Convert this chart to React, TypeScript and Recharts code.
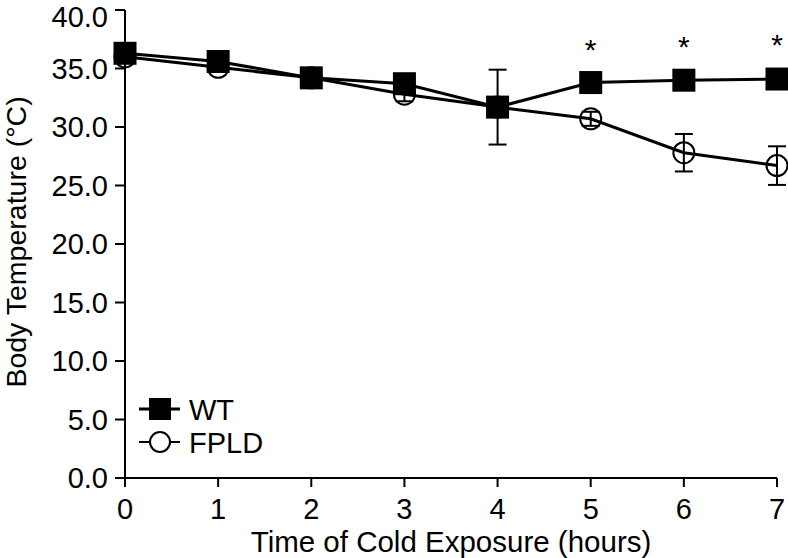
import React from 'react'
import { LineChart, Line, XAxis, YAxis, ErrorBar, Legend, ReferenceDot } from 'recharts'

const FONT = '"Liberation Sans", Arial, Helvetica, sans-serif'

// time of cold exposure (hours)
const hours = [0, 1, 2, 3, 4, 5, 6, 7]
const wtTemp = [36.3, 35.6, 34.2, 33.7, 31.7, 33.8, 34.0, 34.1]
const wtErr = [0.3, 0.3, 0.3, 0.4, 3.2, 0.4, 0.3, 0.3]
const fpldTemp = [36.0, 35.1, 34.2, 32.8, 31.7, 30.7, 27.8, 26.7]
const fpldErr = [0.5, 0.4, 0.3, 0.6, 0.5, 0.6, 1.6, 1.65]
const sigHours = [5, 6, 7]
const sigY = [36.6, 36.9, 37.1]
const yTicks = [0, 5, 10, 15, 20, 25, 30, 35, 40]

const data = hours.map((h, i) => ({
  hour: h,
  wt: wtTemp[i],
  wtErr: wtErr[i],
  fpld: fpldTemp[i],
  fpldErr: fpldErr[i],
}))

const tickStyle = { fill: '#000', fontSize: 29, fontFamily: FONT }

function SquareDot(props: any) {
  const { cx, cy } = props
  if (cx == null || cy == null) return null
  return <rect x={cx - 11.5} y={cy - 11.5} width={23} height={23} fill="#000" />
}

function CircleDot(props: any) {
  const { cx, cy } = props
  if (cx == null || cy == null) return null
  return <circle cx={cx} cy={cy} r={10.5} fill="none" stroke="#000" strokeWidth={2} />
}

function LegendBox() {
  return (
    <svg width={170} height={70} style={{ display: 'block' }}>
      <line x1={9} y1={19} x2={50} y2={19} stroke="#000" strokeWidth={3} />
      <rect x={19} y={8} width={22} height={22} fill="#000" />
      <text x={59} y={30} fontSize={29} fontFamily={FONT} fill="#000">WT</text>
      <line x1={9} y1={52} x2={50} y2={52} stroke="#000" strokeWidth={2} />
      <circle cx={30} cy={52} r={10} fill="#fff" stroke="#000" strokeWidth={2} />
      <text x={59} y={63} fontSize={29} fontFamily={FONT} fill="#000">FPLD</text>
    </svg>
  )
}

export default function App() {
  return (
    <div style={{ position: 'absolute', left: 0, top: 0, background: '#fff' }}>
      <LineChart width={788} height={558} data={data} margin={{ top: 10, right: 11, left: 0, bottom: 0 }}>
        <XAxis
          type="number"
          dataKey="hour"
          domain={[0, 7]}
          ticks={hours}
          height={80}
          tickSize={9}
          tickMargin={11}
          tick={tickStyle}
          axisLine={{ stroke: '#000', strokeWidth: 2 }}
          tickLine={{ stroke: '#000', strokeWidth: 2 }}
          label={{ value: 'Time of Cold Exposure (hours)', position: 'insideBottom', offset: 6, fill: '#000', fontSize: 29.5, fontFamily: FONT }}
        />
        <YAxis
          type="number"
          domain={[0, 40]}
          ticks={yTicks}
          width={125}
          tickSize={10}
          tickMargin={7}
          tick={tickStyle}
          tickFormatter={(v: number) => v.toFixed(1)}
          axisLine={{ stroke: '#000', strokeWidth: 2 }}
          tickLine={{ stroke: '#000', strokeWidth: 2 }}
          label={{
            content: () => (
              <text x={26} y={242} transform="rotate(-90 26 242)" textAnchor="middle" fontSize={28.5} fontFamily={FONT} fill="#000">
                Body Temperature (°C)
              </text>
            ),
          }}
        />
        <Legend
          layout="horizontal"
          verticalAlign="middle"
          align="center"
          content={() => <LegendBox />}
          wrapperStyle={{ position: 'absolute', left: 130, top: 390, width: 170 }}
        />
        <Line
          dataKey="fpld"
          stroke="#000"
          strokeWidth={3}
          dot={<CircleDot />}
          activeDot={false}
          isAnimationActive={false}
        >
          <ErrorBar dataKey="fpldErr" direction="y" width={9} stroke="#000" strokeWidth={2} />
        </Line>
        <Line
          dataKey="wt"
          stroke="#000"
          strokeWidth={3}
          dot={<SquareDot />}
          activeDot={false}
          isAnimationActive={false}
        >
          <ErrorBar dataKey="wtErr" direction="y" width={9} stroke="#000" strokeWidth={2} />
        </Line>
        {sigHours.map((h, i) => (
          <ReferenceDot
            key={h}
            x={h}
            y={sigY[i]}
            r={1}
            fill="none"
            stroke="none"
            label={{ value: '*', position: 'center', fontSize: 30, fontFamily: FONT, fill: '#000' }}
          />
        ))}
      </LineChart>
    </div>
  )
}
